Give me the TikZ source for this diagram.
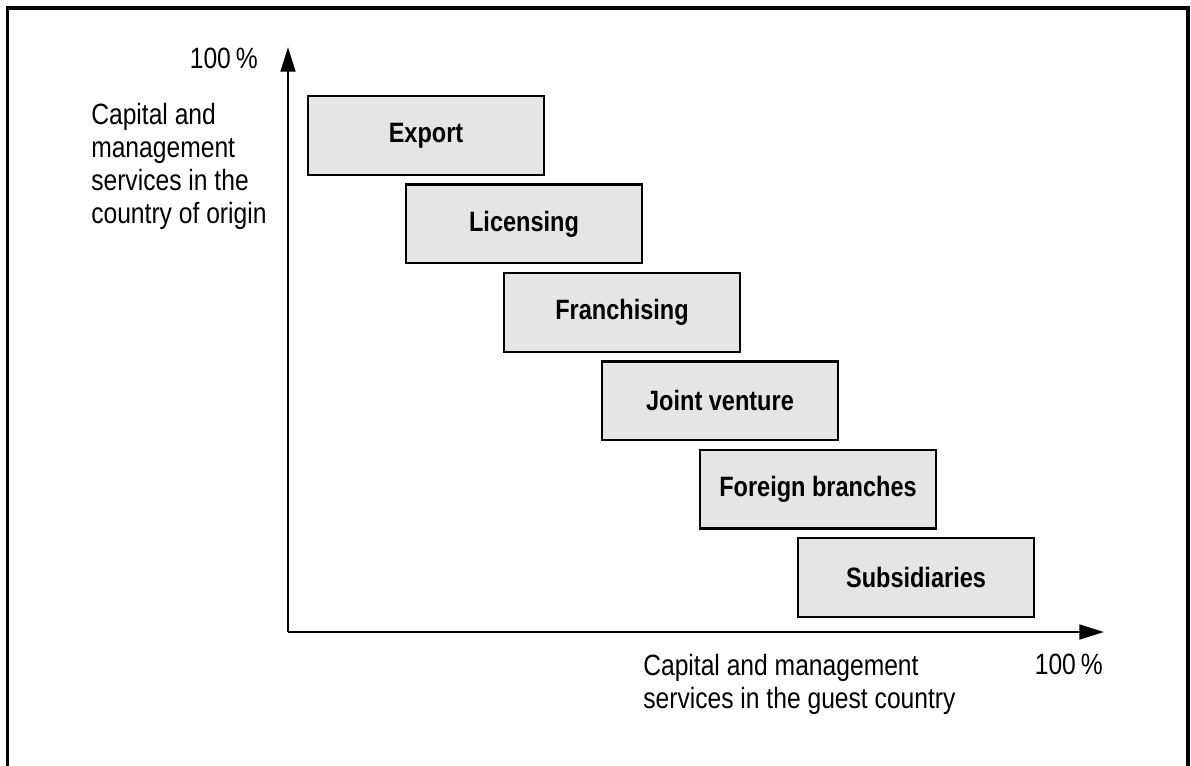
\documentclass[tikz,border=0pt]{standalone}
\usepackage{fontspec}
\setmainfont[FakeStretch=0.84]{Liberation Sans}
\usetikzlibrary{arrows.meta}
\begin{document}
\begin{tikzpicture}[x=0.75pt,y=-0.75pt,
  frameline/.style={line width=2.3pt},
  axisline/.style={line width=2pt,-{Triangle[length=18.5pt,width=11pt]}},
  modebox/.style={draw,line width=1.7pt,fill=black!10,minimum width=177pt,minimum height=59pt,
    inner sep=0pt,font=\fontsize{21}{24}\selectfont\bfseries},
  axislabel/.style={inner sep=0pt,align=left,font=\fontsize{22}{24.75}\selectfont},
]
\useasboundingbox (0,0) rectangle (1191,765);
% open frame around the figure
\draw[frameline] (7.5,766) -- (7.5,8) -- (1188,8) -- (1188,766);

% axes
\coordinate (origin) at (288,632);
\coordinate (ytip) at (288,47);
\coordinate (xtip) at (1104,632);
\draw[axisline] (origin) -- (ytip);
\draw[axisline] (origin) -- (xtip);

% entry modes, stepping down and to the right
\node[modebox] (export)   at (426,135.5) {Export};
\node[modebox] (licence)  at (524,223.9) {Licensing};
\node[modebox] (franch)   at (622,312.3) {Franchising};
\node[modebox] (joint)    at (720,400.7) {Joint venture};
\node[modebox] (branch)   at (818,489.1) {Foreign branches};
\node[modebox] (subsid)   at (916,577.5) {Subsidiaries};

% axis labels (base anchors sit on the last line of a multi-line label)
\node[axislabel,anchor=base east] (ymax) at (258,68) {100\,\%};
\node[axislabel,anchor=base west] (ylabel) at (91,223) {Capital and\\management\\services in the\\country of origin};
\node[axislabel,anchor=base east] (xmax) at (1103,674) {100\,\%};
\node[axislabel,anchor=base west] (xlabel) at (643,708) {Capital and management\\services in the guest country};
\end{tikzpicture}
\end{document}
